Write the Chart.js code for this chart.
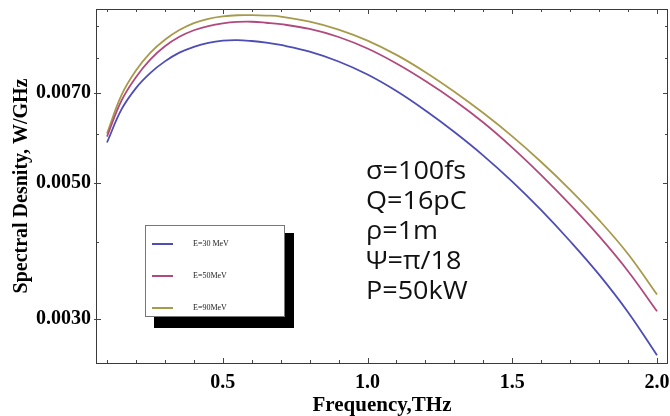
<!DOCTYPE html>
<html>
<head>
<meta charset="utf-8">
<script src="https://cdn.jsdelivr.net/npm/chart.js@4"></script>
<style>
html,body{margin:0;padding:0;background:#fff;}
#wrap{width:670px;height:416px;}
</style>
</head>
<body>
<div id="wrap"><canvas id="c" width="670" height="416"></canvas></div>
<script>
// ---- data ----
const frequency = [0.1,0.15,0.2,0.25,0.3,0.35,0.4,0.45,0.5,0.55,0.6,0.65,0.7,0.8,0.9,1.0,1.1,1.2,1.3,1.4,1.5,1.6,1.7,1.8,1.9,2.0];
const e30 = [0.005818,0.006588,0.007139,0.007559,0.007893,0.008157,0.008336,0.008463,0.008534,0.008550,0.008521,0.008470,0.008394,0.008187,0.007889,0.007512,0.007060,0.006561,0.006051,0.005539,0.005023,0.004512,0.004014,0.003540,0.003074,0.002615];
const e50 = [0.005950,0.006812,0.007438,0.007953,0.008352,0.008656,0.008872,0.009014,0.009105,0.009153,0.009160,0.009126,0.009078,0.008916,0.008650,0.008284,0.007830,0.007331,0.006812,0.006271,0.005708,0.005147,0.004606,0.004091,0.003587,0.003086];
const e90 = [0.006018,0.006952,0.007625,0.008157,0.008562,0.008879,0.009112,0.009264,0.009348,0.009387,0.009390,0.009376,0.009341,0.009164,0.008896,0.008534,0.008087,0.007578,0.007041,0.006499,0.005954,0.005407,0.004870,0.004346,0.003826,0.003285];
const seriesLabels = ["E=30 MeV","E=50MeV","E=90MeV"];
const xTickValues = [0.1,0.2,0.3,0.4,0.5,0.6,0.7,0.8,0.9,1.0,1.1,1.2,1.3,1.4,1.5,1.6,1.7,1.8,1.9,2.0];
const xLabelValues = [0.5,1.0,1.5,2.0];
const yTickValues = [0.003,0.004,0.005,0.006,0.007,0.008,0.009];
const yLabelValues = [0.003,0.005,0.007];
const notes = ["σ=100fs","Q=16pC","ρ=1m","Ψ=π/18","P=50kW"];
const xTitle = "Frequency,THz";
const yTitle = "Spectral Desnity, W/GHz";

const colors = ["#4d4db5","#b04a7e","#a89a4c"];
const near = (a,b)=>Math.abs(a-b)<1e-9;

const framePlugin = {
  id:'frame',
  afterDatasetsDraw(chart){
    const {ctx, chartArea:a, scales:{x,y}} = chart;
    ctx.save();
    ctx.strokeStyle = '#3a3a3a';
    ctx.lineWidth = 1;
    ctx.strokeRect(Math.round(a.left)+0.5, Math.round(a.top)+0.5, Math.round(a.right-a.left)-1, Math.round(a.bottom-a.top));
    ctx.strokeStyle = '#444';
    ctx.beginPath();
    xTickValues.forEach(v=>{
      const px = Math.round(x.getPixelForValue(v))+0.5;
      const major = xLabelValues.some(m=>near(m,v));
      const L = major ? 5 : 3;
      ctx.moveTo(px, a.bottom); ctx.lineTo(px, a.bottom-L);
      ctx.moveTo(px, a.top); ctx.lineTo(px, a.top+L);
    });
    yTickValues.forEach(v=>{
      const py = Math.round(y.getPixelForValue(v))+0.5;
      const major = yLabelValues.some(m=>near(m,v));
      const L = major ? 5 : 3;
      ctx.moveTo(a.left-(major?2:0), py); ctx.lineTo(a.left+L, py);
      ctx.moveTo(a.right, py); ctx.lineTo(a.right-L, py);
    });
    ctx.stroke();
    ctx.restore();
  },
  afterDraw(chart){
    const ctx = chart.ctx;
    ctx.save();
    // legend with drop shadow
    const bx=145, by=225, bw=139, bh=91;
    ctx.fillStyle='#000';
    ctx.fillRect(bx+9, by+8, bw+1, bh+4);
    ctx.fillStyle='#fff';
    ctx.fillRect(bx, by, bw, bh);
    ctx.strokeStyle='#777';
    ctx.lineWidth=1;
    ctx.strokeRect(bx+0.5, by+0.5, bw, bh);
    chart.data.datasets.forEach((ds,i)=>{
      const ly = by + 19 + i*32;
      ctx.strokeStyle = ds.borderColor;
      ctx.lineWidth = 2;
      ctx.beginPath(); ctx.moveTo(152, ly); ctx.lineTo(173, ly); ctx.stroke();
      ctx.fillStyle='#222';
      ctx.font='8px "Liberation Serif"';
      ctx.textBaseline='middle';
      ctx.fillText(ds.label, 193, ly);
    });
    // parameter notes
    ctx.fillStyle='#111';
    ctx.font='25px "Open Sans"';
    ctx.textBaseline='alphabetic';
    notes.forEach((t,i)=>{
      ctx.save();
      ctx.translate(366, 179 + i*30);
      ctx.scale(1.08,1);
      ctx.fillText(t, 0, 0);
      ctx.restore();
    });
    ctx.restore();
  }
};

new Chart(document.getElementById('c'), {
  type:'line',
  data:{
    labels: frequency,
    datasets:[e30,e50,e90].map((d,i)=>({
      label: seriesLabels[i],
      data: frequency.map((f,j)=>({x:f, y:d[j]})),
      borderColor: colors[i],
      borderWidth: 1.8,
      pointRadius: 0,
      fill:false,
      tension:0.4
    }))
  },
  options:{
    responsive:false,
    animation:false,
    devicePixelRatio:1,
    layout:{padding:{top:9,right:2,left:0,bottom:0}},
    plugins:{legend:{display:false}, tooltip:{enabled:false}},
    scales:{
      x:{
        type:'linear', min:0.062, max:2.038,
        afterBuildTicks(s){ s.ticks = xTickValues.map(v=>({value:v})); },
        afterFit(s){ s.height = 53; s.paddingLeft = 0; s.paddingRight = 0; },
        grid:{display:false, drawTicks:false},
        border:{display:false},
        ticks:{
          autoSkip:false, maxRotation:0, padding:8, color:'#000',
          font:{family:'"Liberation Serif"', size:20, weight:'bold'},
          callback(v){ return xLabelValues.some(m=>near(m,v)) ? Number(v).toFixed(1) : ''; }
        },
        title:{display:true, text:xTitle, color:'#000', padding:{top:0,bottom:0},
          font:{family:'"Liberation Serif"', size:21, weight:'bold', lineHeight:1}}
      },
      y:{
        type:'logarithmic', min:0.00254, max:0.00961,
        afterBuildTicks(s){ s.ticks = yTickValues.map(v=>({value:v})); },
        afterFit(s){ s.width = 96; s.paddingTop = 0; s.paddingBottom = 0; },
        grid:{display:false, drawTicks:false},
        border:{display:false},
        ticks:{
          autoSkip:false, padding:5, color:'#000',
          font:{family:'"Liberation Serif"', size:20, weight:'bold'},
          callback(v){ return yLabelValues.some(m=>near(m,v)) ? Number(v).toFixed(4) : ''; }
        },
        title:{display:true, text:yTitle, color:'#000', padding:{top:12,bottom:0},
          font:{family:'"Liberation Serif"', size:20, weight:'bold', lineHeight:1}}
      }
    }
  },
  plugins:[framePlugin]
});
</script>
</body>
</html>
